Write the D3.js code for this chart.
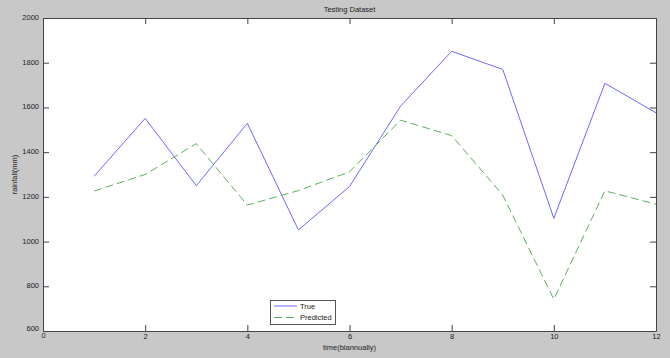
<!DOCTYPE html>
<html><head><meta charset="utf-8">
<script src="https://cdn.jsdelivr.net/npm/d3@7"></script>
<style>body{margin:0;background:#c8c8c8;} svg{display:block;} text{font-family:"Liberation Sans Narrow","Liberation Sans",Arial,sans-serif;fill:#222;}</style>
</head><body>
<svg id="c" width="670" height="358"></svg>
<script>
const xValues = [1,2,3,4,5,6,7,8,9,10,11,12];
const trueValues = [1292,1551,1250,1529,1052,1246,1606,1851,1770,1104,1708,1576];
const predictedValues = [1226,1300,1438,1163,1228,1312,1543,1474,1208,742,1227,1167];
const xTicks = [0,2,4,6,8,10,12];
const yTicks = [600,800,1000,1200,1400,1600,1800,2000];
const seriesNames = ["True","Predicted"];

const svg = d3.select("#c");
const L=43, R=656, T=18, B=331;
const x = d3.scaleLinear().domain([0,12]).range([L,R]);
const y = d3.scaleLinear().domain([600,2000]).range([B,T]);

svg.append("rect").attr("width",670).attr("height",358).attr("fill","#c8c8c8");
svg.append("rect").attr("x",L).attr("y",T).attr("width",R-L).attr("height",B-T).attr("fill","#fff");

const fs = 7.5;
const fmt = d3.format("d");
const axB = svg.append("g").attr("transform",`translate(0,${B})`).call(d3.axisBottom(x).tickValues(xTicks).tickSizeInner(-6).tickSizeOuter(0).tickPadding(3).tickFormat(fmt));
const axT = svg.append("g").attr("transform",`translate(0,${T})`).call(d3.axisTop(x).tickValues(xTicks).tickSizeInner(-6).tickSizeOuter(0).tickFormat(""));
const axL = svg.append("g").attr("transform",`translate(${L},0)`).call(d3.axisLeft(y).tickValues(yTicks).tickSizeInner(-6).tickSizeOuter(0).tickPadding(4).tickFormat(fmt));
const axR = svg.append("g").attr("transform",`translate(${R},0)`).call(d3.axisRight(y).tickValues(yTicks).tickSizeInner(-6).tickSizeOuter(0).tickFormat(""));
[axB,axT,axL,axR].forEach(a=>{
  a.selectAll("path").attr("stroke","#444").attr("stroke-width",1);
  a.selectAll("line").attr("stroke","#444");
  a.selectAll("text").attr("font-size",fs).attr("fill","#222").attr("font-family",'"Liberation Sans Narrow","Liberation Sans",Arial,sans-serif');
});
axL.selectAll(".tick text").attr("dy","0.2em");
axL.selectAll(".tick").filter(d=>d===600).select("text").attr("dy","-0.1em");
axB.selectAll(".tick").filter(d=>d===0).select("text").attr("dy","0.5em");

const line = d3.line().x((d,i)=>x(xValues[i])).y(d=>y(d));
svg.append("path").datum(trueValues).attr("d",line).attr("fill","none").attr("stroke","#6a6aff").attr("stroke-width",1);
svg.append("path").datum(predictedValues).attr("d",line).attr("fill","none").attr("stroke","#5ab05a").attr("stroke-width",1).attr("stroke-dasharray","8,4");

svg.append("text").attr("x",(L+R)/2).attr("y",12).attr("text-anchor","middle").attr("font-size",fs).text("Testing Dataset");
svg.append("text").attr("x",(L+R)/2).attr("y",350).attr("text-anchor","middle").attr("font-size",fs).text("time(biannually)");
svg.append("text").attr("transform",`translate(17,${(T+B)/2}) rotate(-90)`).attr("text-anchor","middle").attr("font-size",fs).text("rainfall(mm)");

const lg = svg.append("g");
lg.append("rect").attr("x",270.5).attr("y",300.5).attr("width",65).attr("height",24).attr("fill","#fff").attr("stroke","#555");
const styles=[{c:"#6a6aff",d:null},{c:"#5ab05a",d:"8,4"}];
seriesNames.forEach((n,i)=>{
  const yy = 306 + i*11.5;
  lg.append("line").attr("x1",274).attr("x2",297).attr("y1",yy).attr("y2",yy).attr("stroke",styles[i].c).attr("stroke-dasharray",styles[i].d);
  lg.append("text").attr("x",300).attr("y",yy+2.5).attr("font-size",fs).text(n);
});
</script>
</body></html>
